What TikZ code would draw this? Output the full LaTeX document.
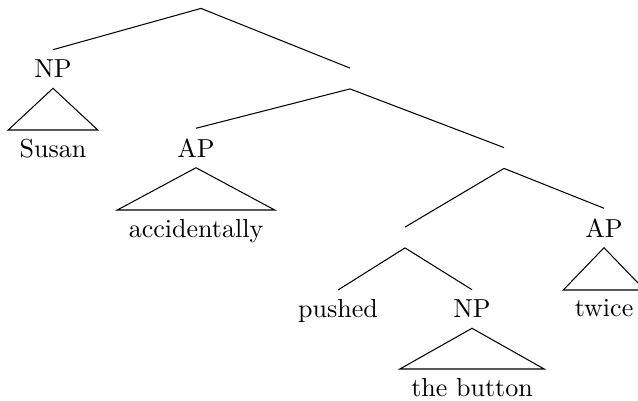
\documentclass[tikz,border=0pt]{standalone}
\usetikzlibrary{positioning}
\begin{document}
\begin{tikzpicture}[
		x=0.01351cm, y=-0.01351cm,
		phrase/.style={inner xsep=3.33pt, inner ysep=3.8pt},
		word/.style={anchor=north, inner xsep=4.2pt, inner ysep=3.3pt},
		branch/.style={thin},
		roof/.style={thin, line join=miter}
		]
		\useasboundingbox (0,0) rectangle (638,400);
		
		% phrase nodes (empty ones are the bar levels)
		\node[phrase] (root) at (201,-2) {};
		\node[phrase] (np1) at (53,69) {NP};
		\node[phrase] (vbar1) at (350,78.5) {};
		\node[phrase] (ap1) at (196,148) {AP};
		\node[phrase] (vbar2) at (504,158) {};
		\node[phrase] (ap2) at (604,228) {AP};
		\node[phrase] (vbar3) at (405,237.5) {};
		\node[phrase] (np2) at (472,309) {NP};
		
		% leaves
		\node[word] (pushed) at (338,290) {pushed};
		\node[word] (susan) at (53,130) {Susan};
		\node[word] (accid) at (196,210) {accidentally};
		\node[word] (twice) at (604,290) {twice};
		\node[word] (button) at (472,369) {the button};
		
		% branches
		\foreach \mother/\daughter in {root/np1, root/vbar1, vbar1/ap1, vbar1/vbar2,
			vbar2/vbar3, vbar2/ap2, vbar3/pushed, vbar3/np2}
		\draw[branch] (\mother.south) -- (\daughter.north);
		
		% roofs over unanalysed phrases
		\foreach \mother/\daughter in {np1/susan, ap1/accid, ap2/twice, np2/button}
		\draw[roof] (\mother.south) -- (\daughter.north west) -- (\daughter.north east) -- cycle;
		\end{tikzpicture}
\end{document}
